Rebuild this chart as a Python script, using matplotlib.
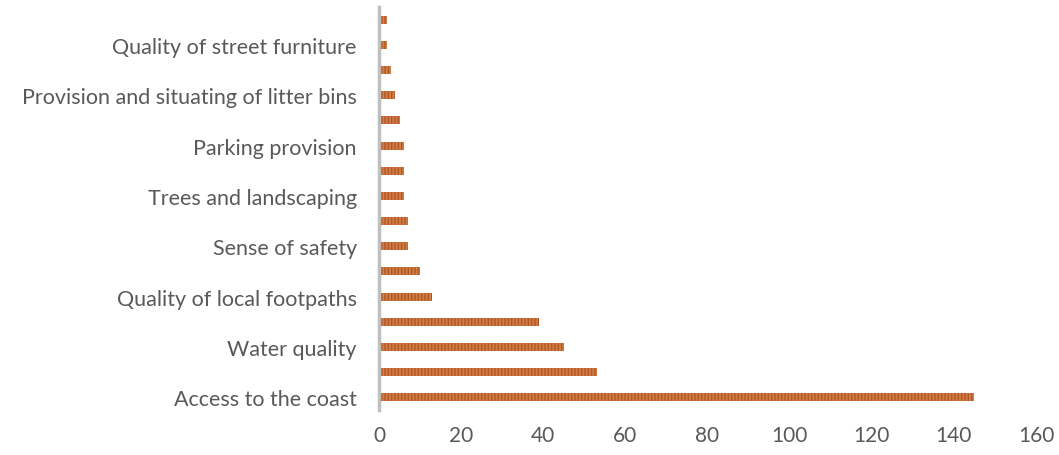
import numpy as np
import matplotlib.pyplot as plt
import matplotlib as mpl

# === DATA (bottom to top) ===
values = [145, 53, 45, 39, 13, 10, 7, 7, 6, 6, 6, 5, 4, 3, 2, 2]
labels = [
    'Access to the coast',
    'Water quality',
    'Quality of local footpaths',
    'Sense of safety',
    'Trees and landscaping',
    'Parking provision',
    'Provision and situating of litter bins',
    'Quality of street furniture',
]
x_ticks = [0, 20, 40, 60, 80, 100, 120, 140, 160]

# === STYLE ===
mpl.rcParams.update({
    'font.family': ['Lato', 'DejaVu Sans'],
    'font.size': 15.5,
    'hatch.linewidth': 1.0,
})
text_color = '#595959'

fig = plt.figure(figsize=(10.59, 4.56), dpi=100)
ax = fig.add_axes([379 / 1059, 1 - 411 / 456, (1036 - 379) / 1059, 403 / 456])

pos = np.arange(len(values))
ax.barh(pos, values, height=0.32, color='#D27B42', edgecolor='#B0582A',
        linewidth=0, hatch='|||||', zorder=2)

ax.set_xlim(0, 160)
ax.set_ylim(-0.5, len(values) - 0.5)
ax.set_xticks(x_ticks)
ax.set_yticks(pos[::2])
ax.set_yticklabels(labels)

ax.tick_params(axis='both', length=0, colors=text_color)
ax.tick_params(axis='x', pad=11, labelsize=15)
ax.tick_params(axis='y', pad=16, labelsize=15.5)

for s in ['top', 'right', 'bottom']:
    ax.spines[s].set_visible(False)
ax.spines['left'].set_color('#BFBFBF')
ax.spines['left'].set_linewidth(2.5)

fig.savefig('out.png', dpi=100)
